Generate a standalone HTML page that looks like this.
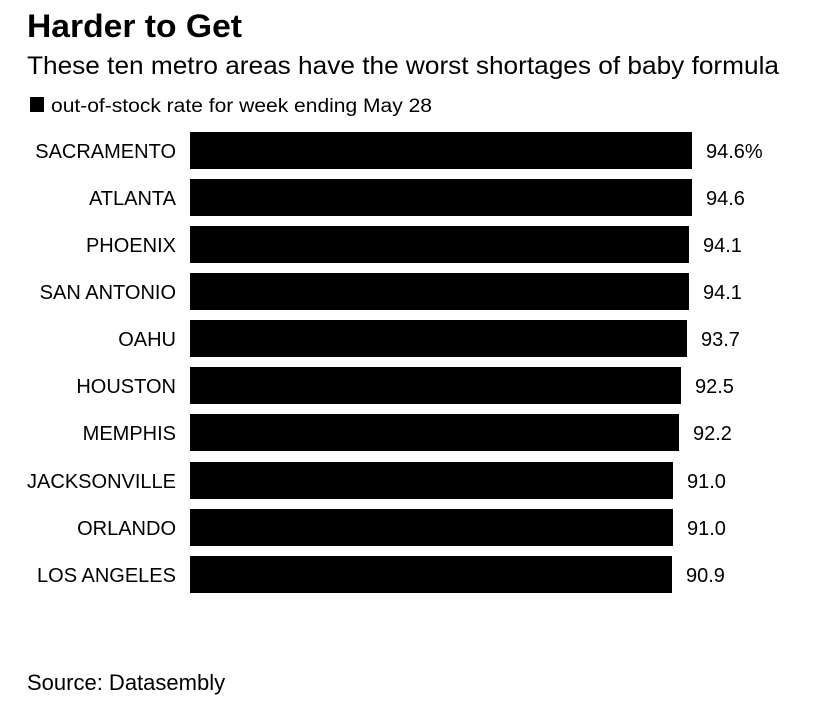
<!DOCTYPE html>
<html><head><meta charset="utf-8"><style>
body{margin:0;background:#fff;}
svg{display:block;font-family:"Liberation Sans",sans-serif;}
</style></head><body>
<svg width="814" height="708" viewBox="0 0 814 708" xmlns="http://www.w3.org/2000/svg">
<text x="27" y="37" font-size="32" font-weight="bold" textLength="215" lengthAdjust="spacingAndGlyphs">Harder to Get</text>
<text x="27" y="74" font-size="25" textLength="752" lengthAdjust="spacingAndGlyphs">These ten metro areas have the worst shortages of baby formula</text>
<rect x="30" y="97" width="14" height="15" fill="#000"/>
<text x="51" y="112" font-size="19" textLength="381" lengthAdjust="spacingAndGlyphs">out-of-stock rate for week ending May 28</text>
<g font-size="20">
<rect x="190" y="132" width="502" height="37"/><text x="176" y="158" text-anchor="end">SACRAMENTO</text><text x="706" y="158">94.6%</text>
<rect x="190" y="179" width="502" height="37"/><text x="176" y="205" text-anchor="end">ATLANTA</text><text x="706" y="205">94.6</text>
<rect x="190" y="226" width="499" height="37"/><text x="176" y="252" text-anchor="end">PHOENIX</text><text x="703" y="252">94.1</text>
<rect x="190" y="273" width="499" height="37"/><text x="176" y="299" text-anchor="end">SAN ANTONIO</text><text x="703" y="299">94.1</text>
<rect x="190" y="320" width="497" height="37"/><text x="176" y="346" text-anchor="end">OAHU</text><text x="701" y="346">93.7</text>
<rect x="190" y="367" width="491" height="37"/><text x="176" y="393" text-anchor="end">HOUSTON</text><text x="695" y="393">92.5</text>
<rect x="190" y="414" width="489" height="37"/><text x="176" y="440" text-anchor="end">MEMPHIS</text><text x="693" y="440">92.2</text>
<rect x="190" y="462" width="483" height="37"/><text x="176" y="488" text-anchor="end">JACKSONVILLE</text><text x="687" y="488">91.0</text>
<rect x="190" y="509" width="483" height="37"/><text x="176" y="535" text-anchor="end">ORLANDO</text><text x="687" y="535">91.0</text>
<rect x="190" y="556" width="482" height="37"/><text x="176" y="582" text-anchor="end">LOS ANGELES</text><text x="686" y="582">90.9</text>
</g>
<text x="27" y="690" font-size="22">Source: Datasembly</text>
</svg>
</body></html>
